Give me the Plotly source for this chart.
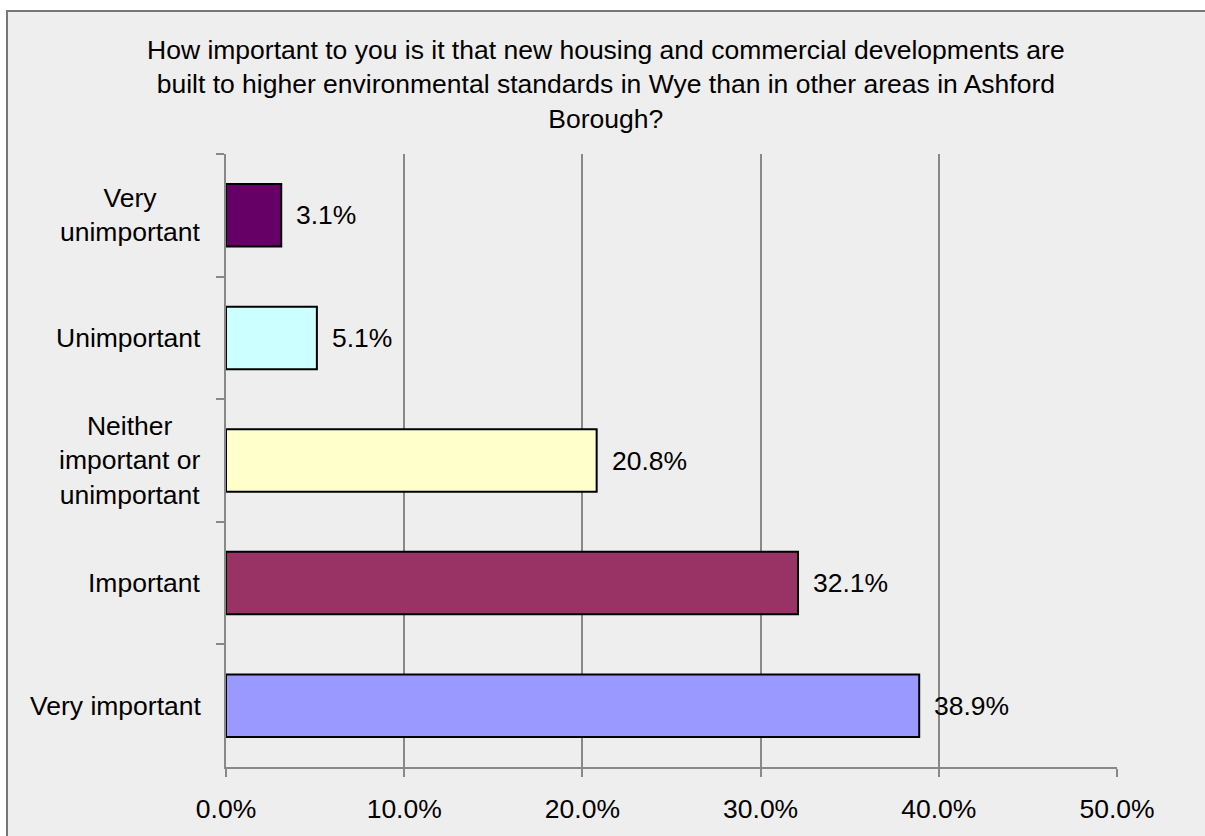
import plotly.graph_objects as go

# survey answers, top to bottom as shown in the chart
categories = ["Very unimportant", "Unimportant", "Neither important or unimportant",
              "Important", "Very important"]
cat_labels = ["Very<br>unimportant", "Unimportant", "Neither<br>important or<br>unimportant",
              "Important", "Very important"]
percent = [3.1, 5.1, 20.8, 32.1, 38.9]
bar_colors = ["#660066", "#CCFFFF", "#FFFFCC", "#993366", "#9999FF"]

title_lines = [
    "How important to you is it that new housing and commercial developments are",
    "built to higher environmental standards in Wye than in other areas in Ashford",
    "Borough?",
]

W, H = 1205, 836
L, T = 226, 154
PW, PH = 891, 619
R, B = W - L - PW, H - T - PH
FONT = "Liberation Sans, Arial, sans-serif"
FS = 26.5


def px_x(px):
    return (px - L) / PW


def px_y(py):
    return (T + PH - py) / PH


fig = go.Figure(go.Bar(
    x=percent, y=categories, orientation="h",
    marker=dict(color=bar_colors, line=dict(color="black", width=2)),
    hoverinfo="skip",
))

ann = []
# value labels just right of each bar
for c, v in zip(categories, percent):
    ann.append(dict(x=v, y=c, xref="x", yref="y", text=f"{v:.1f}%",
                    xanchor="left", yanchor="middle", xshift=13, showarrow=False,
                    font=dict(size=FS, color="black", family=FONT)))
# category labels, centred lines
for c, lab in zip(categories, cat_labels):
    ann.append(dict(x=0, y=c, xref="paper", yref="y", text=lab, align="center",
                    xanchor="right", yanchor="middle", xshift=-23, showarrow=False,
                    font=dict(size=FS, color="black", family=FONT)))
# title as one centred block
ann.append(dict(x=px_x(605.5), y=px_y(84), xref="paper", yref="paper",
                text="<br>".join(title_lines), align="center",
                xanchor="center", yanchor="middle", showarrow=False,
                font=dict(size=FS, color="black", family=FONT)))

fig.update_layout(
    width=W, height=H,
    margin=dict(l=L, r=R, t=T, b=B, pad=0),
    paper_bgcolor="white",
    plot_bgcolor="#EEEEEE",
    bargap=0.49,
    showlegend=False,
    annotations=ann,
    shapes=[dict(type="rect", xref="paper", yref="paper", layer="below",
                 x0=px_x(7), x1=px_x(W + 20), y0=px_y(H + 20), y1=px_y(9.5),
                 fillcolor="#EEEEEE", line=dict(color="#777777", width=2))],
    font=dict(family=FONT, size=FS, color="black"),
)
fig.update_xaxes(
    range=[0, 50], dtick=10, tickformat=".1f", ticksuffix="%",
    showgrid=True, gridcolor="#888888", gridwidth=2,
    showline=True, linecolor="#888888", linewidth=2,
    ticks="outside", ticklen=8, tickcolor="#888888", tickwidth=2,
    ticklabelstandoff=9,
    tickfont=dict(size=FS, family=FONT, color="black"),
    zeroline=False, fixedrange=True,
)
fig.update_yaxes(
    autorange="reversed", showticklabels=False,
    showline=True, linecolor="#888888", linewidth=2,
    ticks="outside", ticklen=8, tickcolor="#888888", tickwidth=2,
    tickson="boundaries", showgrid=False, fixedrange=True,
)

# drop the browser's default body margin so the chart fills the window
fig.write_html("out.html", config={"displayModeBar": False},
               post_script="document.body.style.margin='0';"
                           "document.body.style.overflow='hidden';")
